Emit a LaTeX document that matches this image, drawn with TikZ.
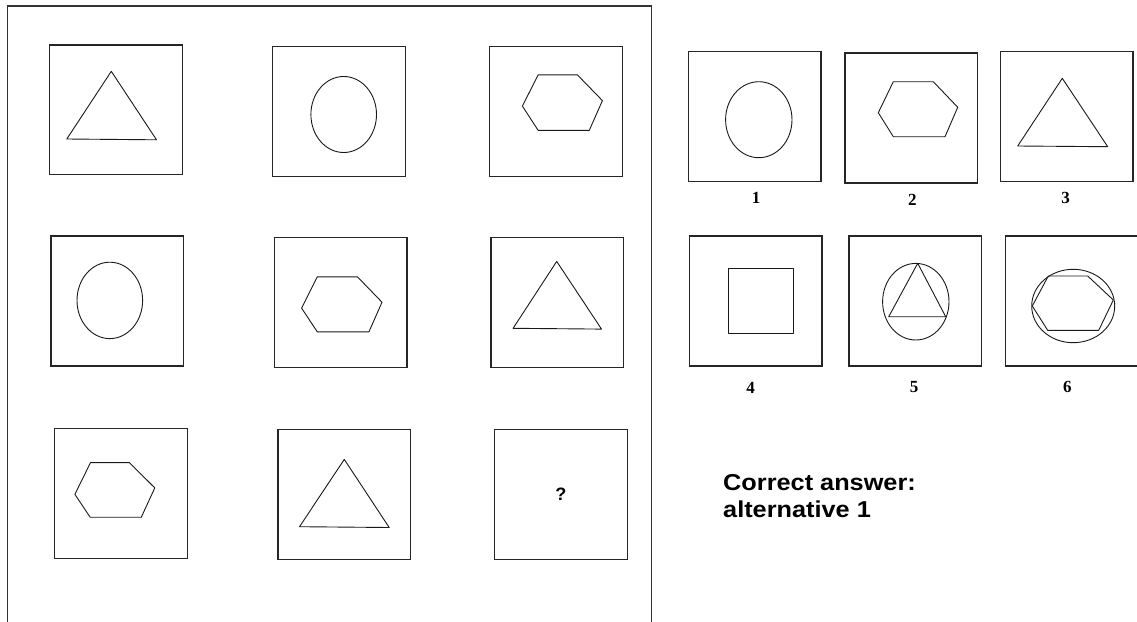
\documentclass[tikz,border=0pt]{standalone}
\usepackage{fontspec}
\setmainfont{Liberation Serif}
\newfontfamily\arialf[FakeStretch=1.1]{Liberation Sans}
\newfontfamily\arialq{Liberation Sans}
\begin{document}
\begin{tikzpicture}[x=1pt,y=-1pt,
  cell/.style={draw=black!85, line width=1.4pt, minimum width=132.6pt, minimum height=129.9pt, inner sep=0pt},
  fig/.style={draw=black!90, line width=0.9pt, line join=round},
  num/.style={font=\fontsize{17}{17}\selectfont\bfseries, inner sep=0pt},
  frame/.style={draw=black!80, line width=1.5pt}]
\useasboundingbox (0,0) rectangle (1137,621);
% outer frame
\coordinate (fbl) at (7.6,622);
\coordinate (ftl) at (7.6,5.9);
\coordinate (ftr) at (651.4,5.9);
\coordinate (fbr) at (651.4,622);
\draw[frame] (fbl) -- (ftl) -- (ftr) -- (fbr);
% matrix cells
\node[cell] (A) at (115.9,109.8) {};
\node[cell] (B) at (339.0,111.3) {};
\node[cell] (C) at (555.9,111.3) {};
\node[cell] (D) at (117.2,301.0) {};
\node[cell] (E) at (340.5,302.4) {};
\node[cell] (F) at (557.1,302.4) {};
\node[cell] (G) at (121.0,493.3) {};
\node[cell] (H) at (344.1,494.7) {};
\node[cell] (I) at (560.9,494.7) {};
% A triangle
\draw[fig] (111.3,71.3) -- (66.8,139.0) -- (156.5,139.8) -- cycle;
% B ellipse
\draw[fig] (343.7,114.5) ellipse [x radius=32.8, y radius=38.0];
% C hexagon
\draw[fig] (538.1,74.9) -- (577.4,74.9) -- (602.4,100.6) -- (589.3,130.3) -- (538.1,130.3) -- (522.4,106.1) -- cycle;
% D ellipse
\draw[fig] (109.8,300.4) ellipse [x radius=32.8, y radius=38.2];
% E hexagon
\draw[fig] (317.3,276.8) -- (357.4,276.8) -- (382.0,302.2) -- (368.9,331.9) -- (317.3,331.9) -- (301.6,308.1) -- cycle;
% F triangle
\draw[fig] (556.7,261.4) -- (513.1,328.3) -- (601.5,329.1) -- cycle;
% G hexagon
\draw[fig] (90.5,462.6) -- (129.4,462.6) -- (154.8,487.9) -- (141.3,517.2) -- (90.1,517.2) -- (74.9,494.3) -- cycle;
% H triangle
\draw[fig] (344.3,459.4) -- (299.5,526.7) -- (389.2,527.5) -- cycle;
% I question mark
\node[font=\arialq\fontsize{18}{18}\selectfont\bfseries, inner sep=0pt] (q) at (I) {?};
% answer cells
\node[cell] (a1) at (754.5,116.7) {};
\node[cell] (a2) at (911.2,117.9) {};
\node[cell] (a3) at (1066.7,116.7) {};
\node[cell] (a4) at (755.7,301.0) {};
\node[cell] (a5) at (915.4,301.0) {};
\node[cell] (a6) at (1072.0,301.0) {};
% 1 ellipse
\draw[fig] (758.8,119.7) ellipse [x radius=33.2, y radius=38.0];
% 2 hexagon
\draw[fig] (893.3,81.7) -- (933.3,81.7) -- (957.7,107.3) -- (945.0,136.7) -- (893.3,136.7) -- (878.3,112.7) -- cycle;
% 3 triangle
\draw[fig] (1062.3,78.3) -- (1017.7,146.0) -- (1107.7,146.7) -- cycle;
% 4 square
\draw[fig] (728.7,268.7) rectangle (793.3,333.0);
% 5 circle with triangle
\draw[fig] (915.8,301.7) ellipse [x radius=33.2, y radius=38.3];
\draw[fig] (917.7,263.3) -- (888.7,316.7) -- (945.7,316.7) -- cycle;
% 6 ellipse with hexagon
\draw[fig] (1073.2,306.0) ellipse [x radius=41.5, y radius=36.7];
\draw[fig] (1048.3,276.0) -- (1087.7,276.0) -- (1113.3,300.0) -- (1098.7,330.3) -- (1047.7,330.3) -- (1032.3,306.0) -- cycle;
% labels
\node[num] (l1) at (756.0,198.3) {1};
\node[num] (l2) at (912.3,199.5) {2};
\node[num] (l3) at (1065.7,197.7) {3};
\node[num] (l4) at (750.7,388.3) {4};
\node[num] (l5) at (914.0,386.7) {5};
\node[num] (l6) at (1067.3,386.7) {6};
% answer text
\node[anchor=base west, inner sep=0pt, font=\arialf\fontsize{23}{23}\selectfont\bfseries] (t1) at (723,490) {Correct answer:};
\node[anchor=base west, inner sep=0pt, font=\arialf\fontsize{23}{23}\selectfont\bfseries] (t2) at (723,517) {alternative 1};
\end{tikzpicture}
\end{document}
